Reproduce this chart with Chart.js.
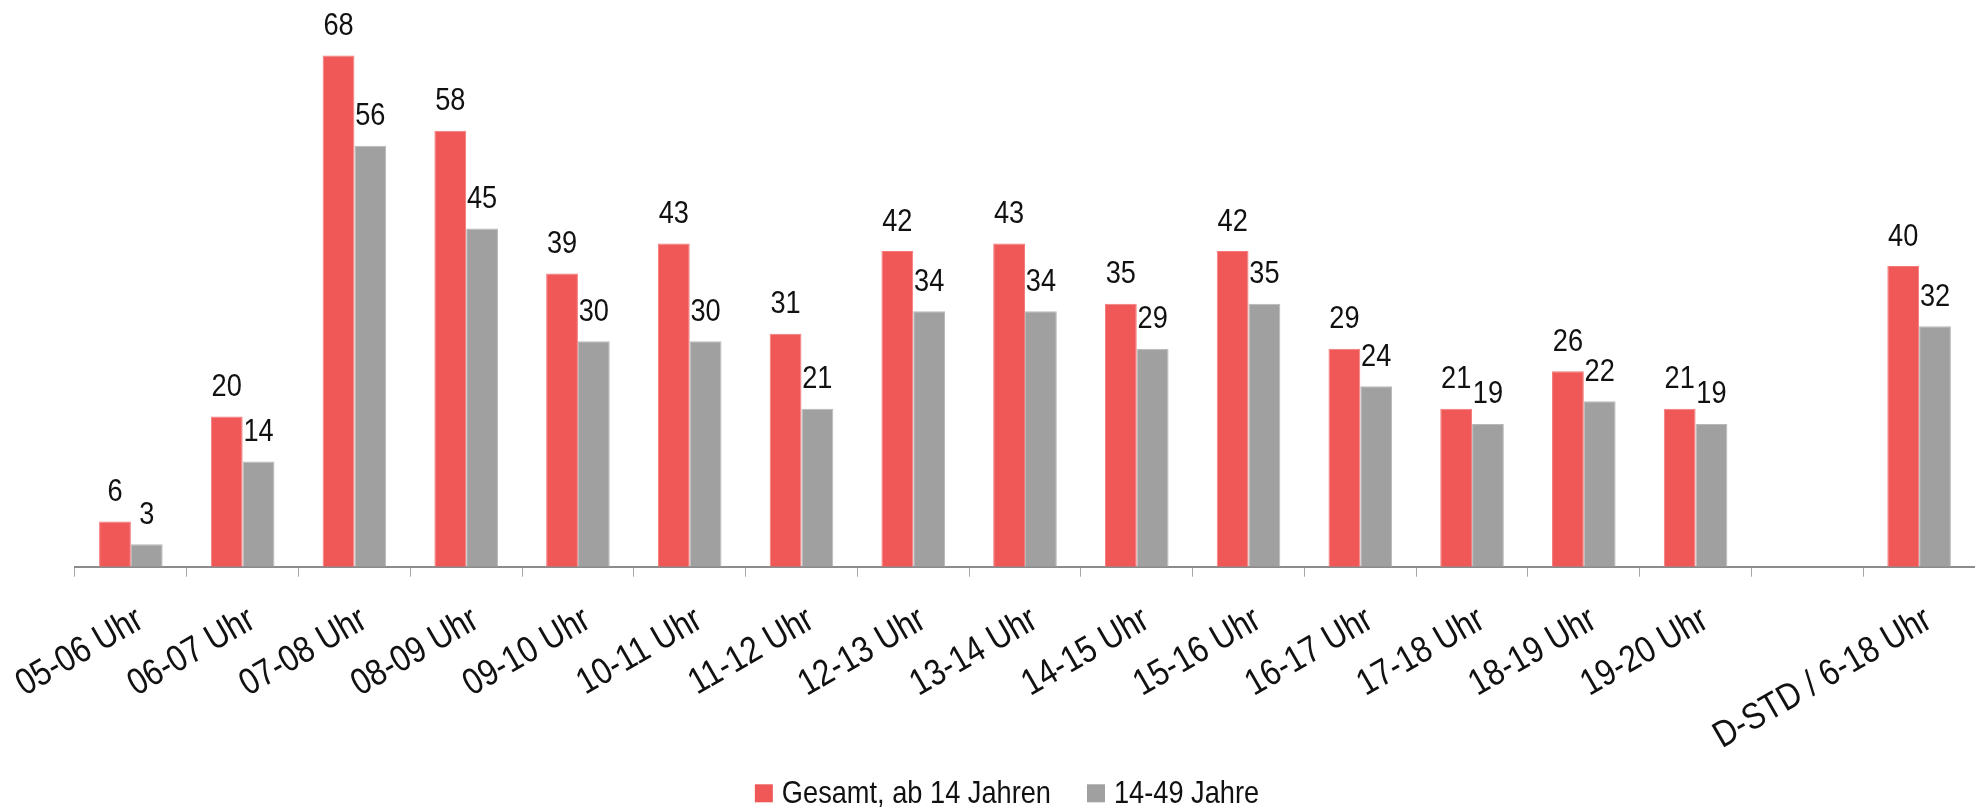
<!DOCTYPE html>
<html>
<head>
<meta charset="utf-8">
<script src="https://cdn.jsdelivr.net/npm/chart.js@4.4.0/dist/chart.umd.min.js"></script>
<style>
html,body{margin:0;padding:0;background:#fff;overflow:hidden}
#wrap{position:relative;width:1975px;height:808px}
</style>
</head>
<body>
<div id="wrap"><canvas id="c"></canvas></div>
<script>
const categories = ['05-06 Uhr','06-07 Uhr','07-08 Uhr','08-09 Uhr','09-10 Uhr','10-11 Uhr','11-12 Uhr','12-13 Uhr','13-14 Uhr','14-15 Uhr','15-16 Uhr','16-17 Uhr','17-18 Uhr','18-19 Uhr','19-20 Uhr','','D-STD / 6-18 Uhr'];
const gesamt = [6,20,68,58,39,43,31,42,43,35,42,29,21,26,21,null,40];
const jahre1449 = [3,14,56,45,30,30,21,34,34,29,35,24,19,22,19,null,32];
const seriesNames = ['Gesamt, ab 14 Jahren','14-49 Jahre'];

const FONT = "'Liberation Sans', Arial, sans-serif";
const FSIZE = 32;          // value labels and legend
const XSIZE = 37;          // category labels
const SX = 0.85;           // horizontal condensing of the text
const RED = '#F05858';
const GRAY = '#A0A0A0';
const TXT = '#111111';

Chart.defaults.font.family = FONT;

function narrowText(ctx, text, x, y, align, angle, dy) {
  ctx.save();
  ctx.translate(x, y);
  if (angle) ctx.rotate(angle);
  ctx.scale(SX, 1);
  ctx.textAlign = align;
  ctx.fillText(text, 0, dy || 0);
  ctx.restore();
}

const valueLabels = {
  id: 'valueLabels',
  afterDatasetsDraw(chart) {
    const ctx = chart.ctx;
    ctx.save();
    ctx.font = FSIZE + 'px ' + FONT;
    ctx.fillStyle = TXT;
    ctx.textBaseline = 'alphabetic';
    chart.data.datasets.forEach((ds, di) => {
      const meta = chart.getDatasetMeta(di);
      meta.data.forEach((bar, i) => {
        const v = ds.data[i];
        if (v === null || v === undefined) return;
        narrowText(ctx, String(v), bar.x, bar.y - 20.5, 'center');
      });
    });
    ctx.restore();
  }
};

const categoryLabels = {
  id: 'categoryLabels',
  afterDraw(chart) {
    const ctx = chart.ctx;
    const xs = chart.scales.x;
    ctx.save();
    ctx.font = XSIZE + 'px ' + FONT;
    ctx.fillStyle = TXT;
    ctx.textBaseline = 'alphabetic';
    const yMid = xs.top + 48;
    chart.data.labels.forEach((lab, i) => {
      if (!lab) return;
      const px = xs.getPixelForValue(i) + 8;
      narrowText(ctx, lab, px, yMid, 'right', -Math.PI / 6, 0.36 * XSIZE);
    });
    ctx.restore();
  }
};

const bottomLegend = {
  id: 'bottomLegend',
  afterDraw(chart) {
    const ctx = chart.ctx;
    ctx.save();
    ctx.font = FSIZE + 'px ' + FONT;
    ctx.textBaseline = 'alphabetic';
    const box = 18, gapText = 9, gapItem = 36;
    const items = chart.data.datasets.map(ds => ({
      label: ds.label, color: ds.backgroundColor, w: ctx.measureText(ds.label).width * SX
    }));
    let total = 0;
    items.forEach((it, i) => { total += box + gapText + it.w + (i ? gapItem : 0); });
    let x = 1007 - total / 2;
    items.forEach(it => {
      ctx.fillStyle = it.color;
      ctx.fillRect(x, 784.3, box, box);
      ctx.fillStyle = TXT;
      narrowText(ctx, it.label, x + box + gapText, 803, 'left');
      x += box + gapText + it.w + gapItem;
    });
    ctx.restore();
  }
};

new Chart(document.getElementById('c'), {
  type: 'bar',
  data: {
    labels: categories,
    datasets: [
      { label: seriesNames[0], data: gesamt, backgroundColor: RED, borderColor: '#F47A7A', borderWidth: 1 },
      { label: seriesNames[1], data: jahre1449, backgroundColor: GRAY, borderColor: '#B8B8B8', borderWidth: 1 }
    ]
  },
  options: {
    responsive: true,
    maintainAspectRatio: false,
    animation: false,
    layout: { padding: { left: 75, right: 0, top: 3, bottom: 0 } },
    datasets: { bar: { categoryPercentage: 0.569, barPercentage: 1 } },
    plugins: {
      legend: { display: false },
      tooltip: { enabled: false }
    },
    scales: {
      x: {
        grid: { display: true, drawOnChartArea: false, drawTicks: true, tickLength: 10, color: '#A6A6A6', lineWidth: 1, offset: true },
        border: { display: true, color: '#8C8C8C', width: 2 },
        ticks: { display: false, autoSkip: false },
        afterFit(scale) { scale.height = 241.3; }
      },
      y: { display: false, min: 0, max: 75 }
    }
  },
  plugins: [valueLabels, categoryLabels, bottomLegend]
});
</script>
</body>
</html>
